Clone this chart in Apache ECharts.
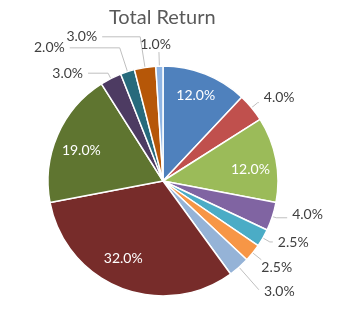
<!DOCTYPE html>
<html><head><meta charset="utf-8">
<script src="https://cdn.jsdelivr.net/npm/echarts@6/dist/echarts.min.js"></script>
<style>html,body{margin:0;padding:0;background:#fff}#c{width:345px;height:329px}</style>
</head><body><div id="c"></div>
<script>
var title = 'Total Return';
var values = [12, 4, 12, 4, 2.5, 2.5, 3, 32, 19, 3, 2, 3, 1];
var colors = ['#4F81BD','#C0504D','#9BBB59','#8064A2','#4BACC6','#F79646','#95B3D7','#772C2A','#5F7530','#4D3B62','#276A7C','#B65708','#8EB4E3'];
var insideFlags = [true,false,true,false,false,false,false,true,true,false,false,false,false];
// leader line lengths for outside labels (by data index)
var len1 = {1: 8, 3: 4, 4: 8, 5: 11, 6: 30, 9: 6, 10: 25, 11: 31, 12: 14};
var len2 = {1: 1, 3: 11, 4: 3, 5: 0, 6: 0, 9: 20, 10: 50, 11: 38, 12: 0};
// small label nudges (label text offsets)
var outerNudge = {1: [0, -5], 3: [0, -3], 4: [0, 1], 5: [-5, 8], 6: [0, 2], 12: [17, -8]};
var innerNudge = {0: [0, -3], 2: [0, 5], 7: [-7, -5], 8: [0, 5]};
function fmt(p){ return p.value.toFixed(1) + '%'; }
function nudger(tbl){
  return function(p){
    var n = tbl[p.dataIndex];
    return n ? {dx: n[0], dy: n[1]} : {};
  };
}
var outerData = values.map(function(v, i){
  var d = {value: v, itemStyle: {color: colors[i]}};
  if (insideFlags[i]) {
    d.label = {show: false};
    d.labelLine = {show: false};
  } else {
    d.label = {show: true, position: 'outside', color: '#404040', fontSize: 14};
    d.labelLine = {show: true, length: len1[i], length2: len2[i], lineStyle: {color: '#BFBFBF', width: 1}};
  }
  return d;
});
var innerData = values.map(function(v, i){
  return {value: v, label: {show: insideFlags[i]}, labelLine: {show: false}};
});
var chart = echarts.init(document.getElementById('c'), null, {renderer: 'canvas'});
chart.setOption({
  animation: false,
  title: {text: title, left: 104, top: 3,
    textStyle: {color: '#595959', fontSize: 20, fontWeight: 'normal', fontFamily: 'Lato'}},
  series: [{
    type: 'pie',
    center: [163, 181],
    radius: [0, 115],
    startAngle: 90,
    clockwise: true,
    avoidLabelOverlap: false,
    itemStyle: {borderColor: '#fff', borderWidth: 1.5},
    label: {formatter: fmt, fontFamily: 'Lato'},
    labelLayout: nudger(outerNudge),
    data: outerData
  }, {
    type: 'pie',
    silent: true,
    center: [163, 181],
    radius: [0, 172],
    startAngle: 90,
    clockwise: true,
    avoidLabelOverlap: false,
    itemStyle: {color: 'rgba(0,0,0,0)'},
    label: {position: 'inside', formatter: fmt, color: '#fff', fontSize: 14, fontFamily: 'Lato'},
    labelLayout: nudger(innerNudge),
    data: innerData
  }]
});
</script></body></html>
